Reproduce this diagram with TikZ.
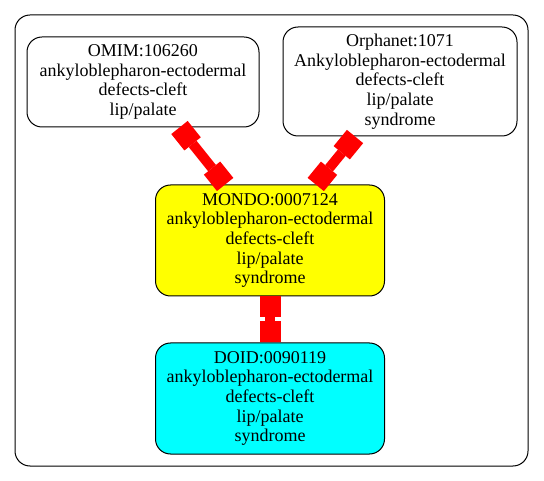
\documentclass[tikz,border=0pt]{standalone}
\usepackage{fontspec}
\setmainfont{Liberation Serif}
\usetikzlibrary{arrows.meta}
\definecolor{gvyellow}{RGB}{255,255,0}
\definecolor{gvcyan}{RGB}{0,255,255}
\definecolor{gvred}{RGB}{255,0,0}
\begin{document}
\begin{tikzpicture}[x=1pt,y=-1pt,
  term/.style={draw=black,line width=1pt,rounded corners=15pt,align=center,
    inner sep=0pt,font=\fontsize{18}{19.6}\selectfont},
  link/.style={draw=gvred,line width=10pt,
    {Square[length=21pt,width=21pt,line width=0pt]}-{Square[length=21pt,width=21pt,line width=0pt]}}]
\useasboundingbox (0,0) rectangle (544,481);
\draw[line width=1pt,rounded corners=15pt] (15,15) rectangle (528,466);
\node[term,minimum width=232pt,minimum height=90pt] (omim) at (143,82)
  {OMIM:106260\\ankyloblepharon-ectodermal\\defects-cleft\\lip/palate};
\node[term,minimum width=234pt,minimum height=109pt] (orpha) at (400,81.5)
  {Orphanet:1071\\Ankyloblepharon-ectodermal\\defects-cleft\\lip/palate\\syndrome};
\node[term,fill=gvyellow,minimum width=229pt,minimum height=111pt] (mondo) at (270,240.5)
  {MONDO:0007124\\ankyloblepharon-ectodermal\\defects-cleft\\lip/palate\\syndrome};
\node[term,fill=gvcyan,minimum width=229pt,minimum height=111pt] (doid) at (270,398.5)
  {DOID:0090119\\ankyloblepharon-ectodermal\\defects-cleft\\lip/palate\\syndrome};
\draw[link] (omim) -- (mondo);
\draw[link] (orpha) -- (mondo);
\draw[link] (mondo) -- (doid);
\end{tikzpicture}
\end{document}
